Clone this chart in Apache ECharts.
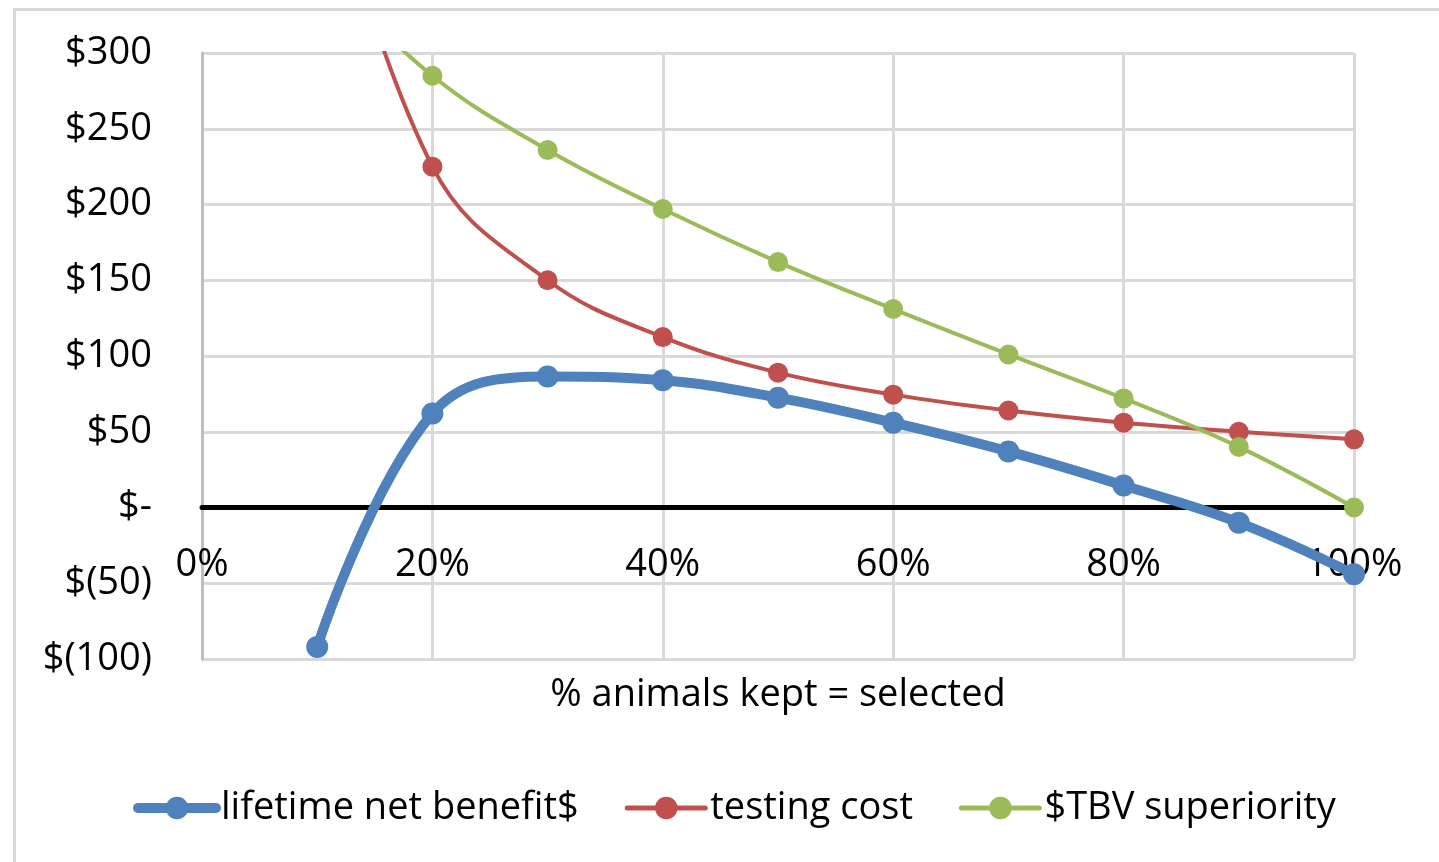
<!DOCTYPE html>
<html>
<head>
<meta charset="utf-8">
<script src="https://cdn.jsdelivr.net/npm/echarts@6/dist/echarts.min.js"></script>
<style>
html,body{margin:0;padding:0;background:#fff;}
#chart{width:1439px;height:862px;}
</style>
</head>
<body>
<div id="chart"></div>
<script>
// Data
const xPercent = [10, 20, 30, 40, 50, 60, 70, 80, 90, 100];
const netBenefit = [-92, 62, 86.5, 84, 72.5, 56, 37, 14.5, -10, -44];
const testingCost = [450, 225, 150, 112.5, 89, 74.5, 64, 56, 50, 45];
const tbvSuperiority = [358, 285, 236, 197, 162, 131, 101, 72, 40, 0];
const seriesNames = ['lifetime net benefit$', 'testing cost', '$TBV superiority'];
const xAxisTitle = '% animals kept = selected';

const pairs = (ys) => xPercent.map((x, i) => [x, ys[i]]);
const FONT = 'Open Sans';
const FS = 38;
const BLUE = '#4f81bd', RED = '#c0504d', GREEN = '#9bbb59';

const chart = echarts.init(document.getElementById('chart'));
chart.setOption({
  animation: false,
  backgroundColor: '#fff',
  textStyle: { fontFamily: FONT, color: '#000' },
  graphic: [{
    type: 'rect', left: 12, top: 7, z: -1,
    shape: { width: 1500, height: 900 },
    style: { fill: 'none', stroke: '#d9d9d9', lineWidth: 3 }
  }],
  grid: { left: 202, right: 85, top: 53, bottom: 203 },
  legend: {
    bottom: 30, left: 128,
    itemWidth: 78, itemHeight: 28, itemGap: 46,
    textStyle: { fontFamily: FONT, fontSize: FS, color: '#000' },
    data: [
      { name: seriesNames[0], lineStyle: { width: 10, cap: 'round' } },
      { name: seriesNames[1], lineStyle: { width: 5, cap: 'round' } },
      { name: seriesNames[2], lineStyle: { width: 5, cap: 'round' } }
    ]
  },
  xAxis: {
    type: 'value', min: 0, max: 100, interval: 20,
    axisLine: { onZero: true, lineStyle: { color: '#000', width: 5 } },
    axisTick: { show: false },
    axisLabel: { formatter: '{value}%', fontFamily: FONT, fontSize: FS, color: '#000', margin: -113 },
    splitLine: { show: true, lineStyle: { color: '#d9d9d9', width: 3 } },
    name: xAxisTitle, nameLocation: 'middle', nameGap: 17, nameMoveOverlap: false,
    nameTextStyle: { fontFamily: FONT, fontSize: FS, color: '#000' }
  },
  yAxis: {
    type: 'value', min: -100, max: 300, interval: 50,
    axisLine: { show: true, lineStyle: { color: '#bfbfbf', width: 3 } },
    axisTick: { show: false },
    axisLabel: {
      fontFamily: FONT, fontSize: FS, color: '#000', margin: 50,
      formatter: (v) => v === 0 ? '$-' : (v < 0 ? '$(' + Math.abs(v) + ')' : '$' + v)
    },
    splitLine: { show: true, lineStyle: { color: '#d9d9d9', width: 3 } }
  },
  series: [
    {
      name: seriesNames[0], type: 'line', data: pairs(netBenefit), smooth: 0.4,
      symbol: 'circle', symbolSize: 22, z: 3,
      lineStyle: { color: BLUE, width: 10 }, itemStyle: { color: BLUE }
    },
    {
      name: seriesNames[1], type: 'line', data: pairs(testingCost), smooth: 0.4,
      symbol: 'circle', symbolSize: 20, z: 4,
      lineStyle: { color: RED, width: 4 }, itemStyle: { color: RED }
    },
    {
      name: seriesNames[2], type: 'line', data: pairs(tbvSuperiority), smooth: 0.4,
      symbol: 'circle', symbolSize: 20, z: 5,
      lineStyle: { color: GREEN, width: 4 }, itemStyle: { color: GREEN }
    }
  ]
});
</script>
</body>
</html>
